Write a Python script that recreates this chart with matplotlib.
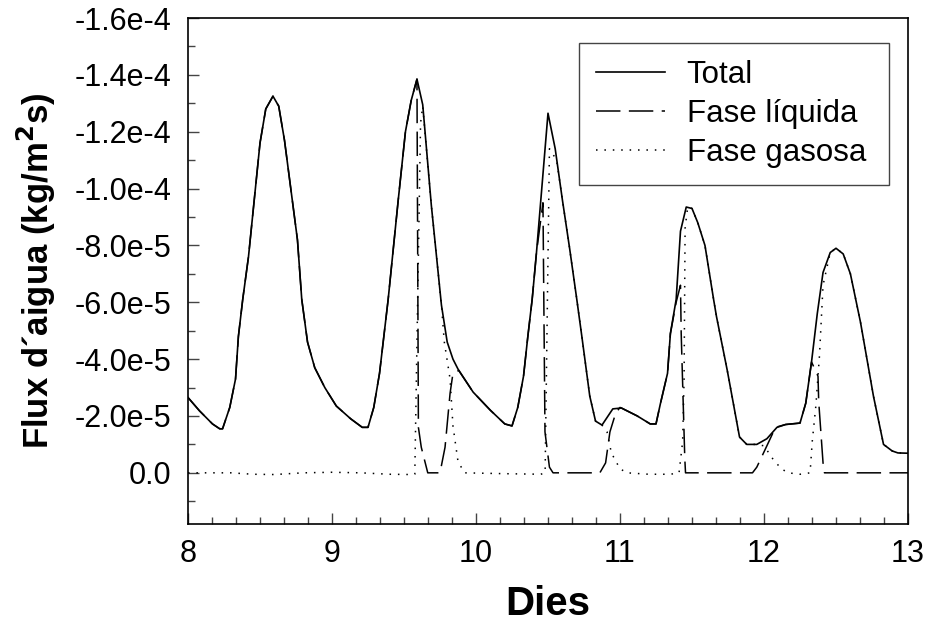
import matplotlib
matplotlib.use("Agg")
import matplotlib.pyplot as plt
from matplotlib.ticker import MultipleLocator, FixedLocator, FixedFormatter
import numpy as np

plt.rcParams['font.family'] = ['Liberation Sans', 'DejaVu Sans']

SCALE = 1e-5  # values below are in units of 1e-5 kg/m2s

# Total flux
t_total = [8.00, 8.08, 8.17, 8.22, 8.24, 8.29, 8.33, 8.35, 8.38, 8.42, 8.46, 8.50, 8.54, 8.59,
           8.63, 8.67, 8.76, 8.79, 8.83, 8.88, 8.95, 9.03, 9.13, 9.21, 9.25, 9.29, 9.33, 9.36,
           9.39, 9.42, 9.46, 9.51, 9.55, 9.59, 9.63, 9.69, 9.76, 9.80, 9.84, 9.875, 9.98,
           10.10, 10.20, 10.25, 10.29, 10.33, 10.36, 10.39, 10.42, 10.46, 10.50, 10.55, 10.60,
           10.65, 10.70, 10.735, 10.79, 10.83, 10.875, 10.95, 11.01, 11.12, 11.21, 11.25, 11.28,
           11.33, 11.35, 11.39, 11.42, 11.46, 11.50, 11.54, 11.59, 11.65, 11.67, 11.745, 11.83,
           11.88, 11.95, 12.02, 12.09, 12.15, 12.25, 12.29, 12.33, 12.37, 12.41, 12.46, 12.50,
           12.55, 12.60, 12.67, 12.76, 12.83, 12.89, 12.93, 13.00]
f_total = [-2.65, -2.18, -1.72, -1.55, -1.55, -2.3, -3.3, -4.8, -6.1, -7.6, -9.6, -11.6, -12.8, -13.25,
           -12.9, -11.7, -8.2, -6.1, -4.6, -3.7, -3.0, -2.35, -1.9, -1.6, -1.6, -2.3, -3.5, -4.8,
           -6.1, -7.6, -9.6, -12.0, -13.1, -13.85, -12.95, -9.4, -5.9, -4.6, -4.0, -3.65, -2.84,
           -2.2, -1.72, -1.65, -2.3, -3.4, -4.8, -6.1, -7.75, -10.2, -12.65, -11.4, -9.6,
           -7.9, -6.1, -4.8, -2.7, -1.82, -1.68, -2.25, -2.28, -2.0, -1.72, -1.72, -2.42,
           -3.5, -4.9, -6.1, -8.5, -9.35, -9.3, -8.8, -8.0, -6.1, -5.5, -3.6, -1.26,
           -1.0, -1.0, -1.2, -1.6, -1.7, -1.75, -2.45, -3.9, -5.6, -7.05, -7.75, -7.9,
           -7.7, -7.0, -5.3, -2.7, -1.0, -0.77, -0.70, -0.69]

# Liquid phase
t_liquid = [8.00, 8.08, 8.17, 8.22, 8.24, 8.29, 8.33, 8.35, 8.38, 8.42, 8.46, 8.50, 8.54, 8.59,
            8.63, 8.67, 8.76, 8.79, 8.83, 8.88, 8.95, 9.03, 9.13, 9.21, 9.25, 9.29, 9.33, 9.36,
            9.39, 9.42, 9.46, 9.51, 9.55, 9.59, 9.60, 9.62, 9.665, 9.75, 9.785, 9.82, 9.84, 9.88,
            9.98, 10.10, 10.20, 10.25, 10.29, 10.33, 10.36, 10.39, 10.42, 10.465, 10.479, 10.51,
            10.535, 10.86, 10.90, 10.93, 10.97, 11.00, 11.01, 11.12, 11.21, 11.25, 11.28, 11.33,
            11.35, 11.39, 11.42, 11.425, 11.45, 11.455, 11.92, 11.95, 12.02, 12.08, 12.15, 12.25,
            12.29, 12.33, 12.375, 12.38, 12.41, 12.42, 13.00]
f_liquid = [-2.65, -2.18, -1.72, -1.55, -1.55, -2.3, -3.3, -4.8, -6.1, -7.6, -9.6, -11.6, -12.8, -13.25,
            -12.9, -11.7, -8.2, -6.1, -4.6, -3.7, -3.0, -2.35, -1.9, -1.6, -1.6, -2.3, -3.5, -4.8,
            -6.1, -7.6, -9.6, -12.0, -13.1, -13.85, -1.6, -0.9, 0.0, 0.0, -0.9, -2.8, -3.5, -3.6,
            -2.84, -2.2, -1.72, -1.65, -2.3, -3.4, -4.8, -6.1, -7.75, -9.5, -1.44, -0.2,
            0.0, 0.0, -0.35, -1.44, -2.1, -2.3, -2.28, -2.0, -1.72, -1.72, -2.42, -3.5,
            -4.9, -6.0, -6.6, -4.9, -0.5, 0.0, 0.0, -0.2, -0.95, -1.6, -1.7, -1.75,
            -2.45, -3.9, -3.4, -2.5, -0.35, 0.0, 0.0]

# Gas phase
t_gas = [8.00, 8.30, 8.45, 8.60, 8.80, 9.00, 9.20, 9.40, 9.55, 9.575, 9.615, 9.63, 9.69,
         9.76, 9.78, 9.82, 9.84, 9.875, 9.92, 10.20, 10.45, 10.48, 10.51, 10.56, 10.60, 10.65,
         10.70, 10.735, 10.79, 10.83, 10.875, 10.91, 10.94, 11.00, 11.05, 11.20, 11.35, 11.41,
         11.435, 11.445, 11.452, 11.47, 11.50, 11.54, 11.59, 11.65, 11.67, 11.745, 11.83, 11.88,
         11.95, 12.00, 12.06, 12.12, 12.17, 12.25, 12.32, 12.335, 12.36, 12.385, 12.41, 12.46,
         12.50, 12.55, 12.60, 12.67, 12.76, 12.83, 12.89, 12.93, 13.00]
f_gas = [0.0, 0.0, 0.05, 0.06, 0.0, -0.02, 0.0, 0.05, 0.06, 0.05, -12.3, -12.9, -9.4,
         -5.9, -4.6, -3.3, -1.65, -0.4, 0.0, 0.03, 0.05, 0.0, -11.4, -11.0, -9.6, -7.9,
         -6.1, -4.8, -2.7, -1.82, -1.68, -1.44, -0.7, -0.14, 0.0, 0.05, 0.05, 0.0,
         -1.1, -3.3, -8.6, -9.35, -9.3, -8.8, -8.0, -6.1, -5.5, -3.6, -1.26, -1.0,
         -1.0, -0.95, -0.5, -0.14, 0.0, 0.05, 0.0, -1.1, -2.35, -4.1, -6.6, -7.75,
         -7.9, -7.7, -7.0, -5.3, -2.7, -1.0, -0.77, -0.70, -0.69]

labels = ['Total', 'Fase líquida', 'Fase gasosa']
y_major = [-16e-5, -14e-5, -12e-5, -10e-5, -8e-5, -6e-5, -4e-5, -2e-5, 0.0]
y_labels = ['-1.6e-4', '-1.4e-4', '-1.2e-4', '-1.0e-4', '-8.0e-5', '-6.0e-5', '-4.0e-5', '-2.0e-5', '0.0']
x_major = [8, 9, 10, 11, 12, 13]

fig = plt.figure(figsize=(9.3, 6.37), dpi=100)
ax = fig.add_axes([188 / 930, 1 - 524 / 637, 720 / 930, 506 / 637])

ax.plot(t_total, np.array(f_total) * SCALE, color='black', lw=1.2, label=labels[0])
ax.plot(t_liquid, np.array(f_liquid) * SCALE, color='black', lw=1.1,
        linestyle=(0, (16, 5.5)), label=labels[1])
ax.plot(t_gas, np.array(f_gas) * SCALE, color='black', lw=1.1,
        linestyle=(0, (1, 4.5)), label=labels[2])

ax.set_xlim(8, 13)
ax.set_ylim(1.8e-5, -1.6e-4)
ax.xaxis.set_major_locator(FixedLocator(x_major))
ax.xaxis.set_minor_locator(MultipleLocator(1 / 6))
ax.yaxis.set_major_locator(FixedLocator(y_major))
ax.yaxis.set_major_formatter(FixedFormatter(y_labels))
ax.yaxis.set_minor_locator(MultipleLocator(1e-5))
ax.tick_params(which='both', direction='in', labelsize=22, color='#444444')
ax.tick_params(which='major', length=8, width=1)
ax.tick_params(which='minor', length=5, width=1)
ax.tick_params(axis='y', pad=12)
ax.tick_params(axis='x', pad=11)
for s in ax.spines.values():
    s.set_linewidth(1.2)

ax.set_xlabel('Dies', fontsize=29, fontweight='bold', labelpad=11)
ax.set_ylabel('Flux d´aigua (kg/m$^\\mathbf{2}$s)', fontsize=25, fontweight='bold', labelpad=12)

# legend box: left 579px, right 889px, top 43px (figure pixels)
lx0 = (579 - 188) / 720
lw_ = (889 - 579) / 720
ltop = 1 - (43 - 18) / 506
leg = ax.legend(loc='upper left', bbox_to_anchor=(lx0, ltop - 0.3, lw_, 0.3), mode='expand',
                fontsize=22.5, frameon=True, fancybox=False, framealpha=1, edgecolor='#444444',
                handlelength=2.2, handletextpad=0.7, labelspacing=0.29, borderpad=0.54,
                borderaxespad=0)
leg.get_frame().set_linewidth(1.0)

fig.savefig('out.png', dpi=100)
